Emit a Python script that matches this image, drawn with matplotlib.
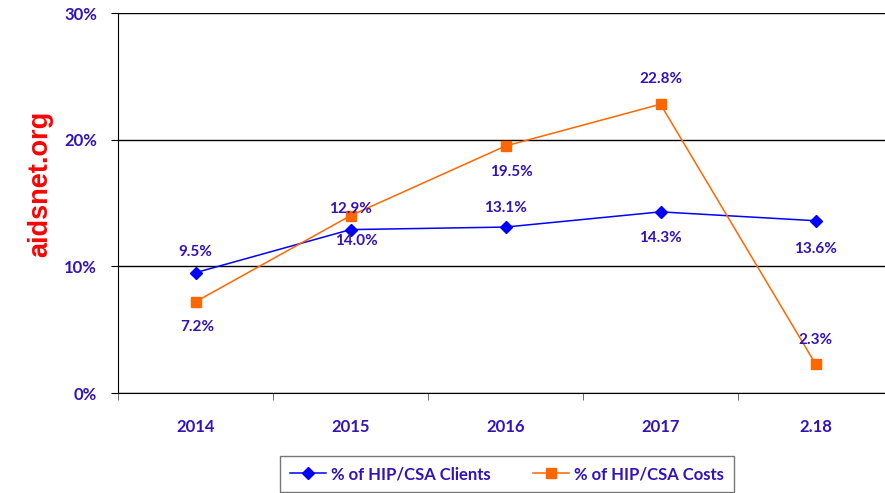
import matplotlib
matplotlib.use("Agg")
import matplotlib.pyplot as plt
from matplotlib.ticker import FuncFormatter, FixedLocator

years = ["2014", "2015", "2016", "2017", "2.18"]
clients = [9.5, 12.9, 13.1, 14.3, 13.6]
costs = [7.2, 14.0, 19.5, 22.8, 2.3]
# label offsets (points) for each point label
client_off = [(0, 15), (0, 15), (0, 14), (0, -19), (0, -20)]
cost_off = [(1, -18), (4, -18), (4, -19), (0, 18), (0, 17)]

TXT = "#3311BB"
BLUE = "#0000FF"
ORANGE = "#FF6600"
plt.rcParams["font.family"] = ["Lato", "DejaVu Sans"]

fig = plt.figure(figsize=(8.85, 4.93), dpi=100)
ax = fig.add_axes([118/885, 100/493, (893-118)/885, 380/493])

x = range(len(years))
ax.plot(x, clients, color=BLUE, lw=1.1, marker="D", ms=6.5, label="% of HIP/CSA Clients")
ax.plot(x, costs, color=ORANGE, lw=1.1, marker="s", ms=7.5, label="% of HIP/CSA Costs")

for i, v in enumerate(clients):
    ax.annotate(f"{v:.1f}%", (i, v), xytext=client_off[i], textcoords="offset points",
                ha="center", va="center", fontsize=11, fontweight="bold", color=TXT)
for i, v in enumerate(costs):
    ax.annotate(f"{v:.1f}%", (i, v), xytext=cost_off[i], textcoords="offset points",
                ha="center", va="center", fontsize=11, fontweight="bold", color=TXT)

ax.set_xlim(-0.5, len(years) - 0.5)
ax.set_ylim(0, 30)
ax.set_yticks([0, 10, 20, 30])
ax.yaxis.set_major_formatter(FuncFormatter(lambda v, p: f"{v:.0f}%"))
ax.grid(axis="y", color="black", lw=1)
ax.set_axisbelow(True)

ax.set_xticks(list(x))
ax.set_xticklabels(years)
ax.xaxis.set_minor_locator(FixedLocator([k - 0.5 for k in range(len(years) + 1)]))
ax.tick_params(axis="x", which="major", length=0, pad=19)
ax.tick_params(axis="x", which="minor", length=5, color="#555555")
ax.tick_params(axis="y", length=5, pad=10)
for lab in ax.get_xticklabels() + ax.get_yticklabels():
    lab.set_fontweight("bold")
    lab.set_fontsize(12)
    lab.set_color(TXT)

for s in ["top", "right"]:
    ax.spines[s].set_visible(False)
ax.spines["left"].set_color("black")
ax.spines["bottom"].set_color("black")

fig.text(40/885, 1 - 184/493, "aidsnet.org", rotation=90, ha="center", va="center",
         fontsize=19.5, fontweight="bold", color="#FF0000", family="Liberation Sans")

leg = fig.legend(loc="center", bbox_to_anchor=(507/885, 1 - 474/493), ncol=2,
                 frameon=True, fancybox=False, edgecolor="#555555", fontsize=12,
                 handlelength=2.2, columnspacing=2.5, borderpad=0.6, handletextpad=0.3)
for t in leg.get_texts():
    t.set_color(TXT)
    t.set_fontweight("bold")

fig.savefig("out.png", dpi=100)
